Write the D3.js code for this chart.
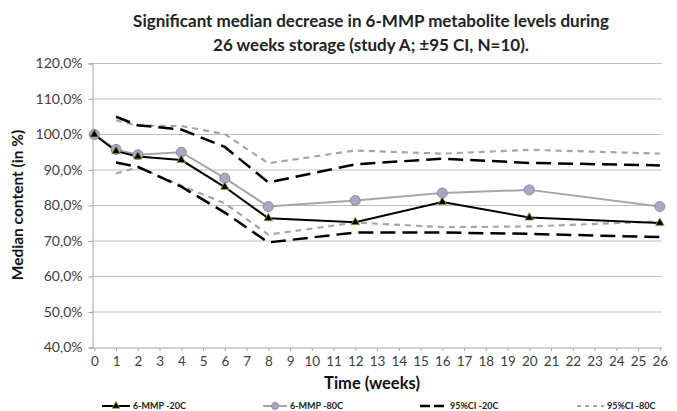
<!DOCTYPE html>
<html>
<head>
<meta charset="utf-8">
<script src="https://cdn.jsdelivr.net/npm/d3@7"></script>
<style>
  body { margin: 0; background: #fff; }
  svg { display: block; font-family: Lato, "Open Sans", sans-serif; }
</style>
</head>
<body>
<div id="chart"></div>
<script>
// weeks of storage
const weeks = [0, 1, 2, 4, 6, 8, 12, 16, 20, 26];
const ciWeeks = [1, 2, 4, 6, 8, 12, 16, 20, 26];

// median content (%)
const mmp20 = [100, 95.3, 93.8, 92.8, 85.2, 76.4, 75.3, 81.0, 76.6, 75.1];
const mmp80 = [100, 95.8, 94.3, 95.0, 87.7, 79.7, 81.4, 83.5, 84.4, 79.7];

// 95% CI bounds
const ci20Upper = [105.0, 102.6, 101.4, 96.5, 86.5, 91.6, 93.2, 92.0, 91.3];
const ci20Lower = [92.1, 90.9, 85.3, 78.0, 69.6, 72.4, 72.4, 72.0, 71.1];
const ci80Upper = [104.0, 102.5, 102.4, 100.1, 91.9, 95.5, 94.6, 95.7, 94.6];
const ci80Lower = [89.0, 90.8, 85.6, 80.6, 71.8, 75.2, 73.9, 74.1, 75.5];

const yTicks = [40, 50, 60, 70, 80, 90, 100, 110, 120];
const xTicks = d3.range(0, 27);

const titleLines = [
  "Significant median decrease in 6-MMP metabolite levels during",
  "26 weeks storage (study A; \u00b195 CI, N=10)."
];

const width = 677, height = 411;
const svg = d3.select("#chart").append("svg")
  .attr("width", width)
  .attr("height", height);

const x = d3.scaleLinear().domain([0, 26]).range([94.3, 659.8]);
const y = d3.scaleLinear().domain([40, 120]).range([347.5, 63.5]);

const fmt = v => d3.format(".1f")(v).replace(".", ",") + "%";

// gridlines
svg.append("g")
  .selectAll("line")
  .data(yTicks.filter(d => d > 40))
  .enter().append("line")
  .attr("x1", 92).attr("x2", 662)
  .attr("y1", d => y(d)).attr("y2", d => y(d))
  .attr("stroke", "#bfbfbf")
  .attr("stroke-width", 1);

// y axis
const yAxis = svg.append("g")
  .attr("transform", "translate(92.5,0)")
  .call(d3.axisLeft(y).tickValues(yTicks).tickFormat(fmt).tickSize(4).tickPadding(6));
yAxis.select(".domain").attr("stroke", "#a6a6a6");
yAxis.selectAll(".tick line").attr("stroke", "#a6a6a6");
yAxis.selectAll("text")
  .attr("fill", "#404040")
  .style("font-size", "14px")
  .style("font-family", "Lato, sans-serif");

// x axis
const xAxis = svg.append("g")
  .attr("transform", `translate(0,${y(40) + 0.5})`)
  .call(d3.axisBottom(x).tickValues(xTicks).tickFormat(d3.format("d")).tickSize(3).tickPadding(5));
xAxis.select(".domain").attr("stroke", "#a6a6a6").attr("d", `M92,0H662`);
xAxis.selectAll(".tick line").attr("stroke", "#a6a6a6");
xAxis.selectAll("text")
  .attr("fill", "#404040")
  .style("font-size", "13.5px")
  .style("font-family", "Lato, sans-serif");

// series
const line = d3.line().x(d => x(d[0])).y(d => y(d[1]));
const series = [
  { xs: ciWeeks, vals: ci80Upper, color: "#a6a6a6", w: 2.2, dash: "6,5" },
  { xs: ciWeeks, vals: ci80Lower, color: "#a6a6a6", w: 2.2, dash: "6,5" },
  { xs: ciWeeks, vals: ci20Upper, color: "#000", w: 2.5, dash: "15,7" },
  { xs: ciWeeks, vals: ci20Lower, color: "#000", w: 2.5, dash: "15,7" },
  { xs: weeks, vals: mmp80, color: "#a6a6a6", w: 2, dash: null },
  { xs: weeks, vals: mmp20, color: "#000", w: 2, dash: null }
];

svg.append("g")
  .selectAll("path")
  .data(series)
  .enter().append("path")
  .attr("d", s => line(s.xs.map((w, i) => [w, s.vals[i]])))
  .attr("fill", "none")
  .attr("stroke", s => s.color)
  .attr("stroke-width", s => s.w)
  .attr("stroke-dasharray", s => s.dash);

// markers
const tri = d3.symbol().type(d3.symbolTriangle).size(32);
svg.append("g")
  .selectAll("circle")
  .data(weeks.map((w, i) => [w, mmp80[i]]))
  .enter().append("circle")
  .attr("cx", d => x(d[0])).attr("cy", d => y(d[1]))
  .attr("r", 5)
  .attr("fill", "#a9a7c2")
  .attr("stroke", "#8b88ad")
  .attr("stroke-width", 1);

svg.append("g")
  .selectAll("path")
  .data(weeks.map((w, i) => [w, mmp20[i]]))
  .enter().append("path")
  .attr("d", tri)
  .attr("transform", d => `translate(${x(d[0])},${y(d[1])})`)
  .attr("fill", "#000")
  .attr("stroke", "#8fa83a")
  .attr("stroke-width", 0.8);

// title
svg.append("g")
  .selectAll("text")
  .data(titleLines)
  .enter().append("text")
  .attr("x", 371)
  .attr("y", (d, i) => 27 + i * 23.5)
  .attr("text-anchor", "middle")
  .attr("fill", "#222")
  .style("font-size", "17px")
  .style("font-weight", "700")
  .text(d => d);

// axis titles
svg.append("text")
  .attr("transform", "translate(23,205) rotate(-90)")
  .attr("text-anchor", "middle")
  .attr("fill", "#111")
  .style("font-size", "15.5px")
  .style("font-weight", "700")
  .text("Median content (in %)");

svg.append("text")
  .attr("x", 372).attr("y", 389)
  .attr("text-anchor", "middle")
  .attr("fill", "#111")
  .style("font-size", "16.5px")
  .style("font-weight", "700")
  .text("Time (weeks)");

// legend
const legendItems = [
  { label: "6-MMP -20C", x0: 102, x1: 130, color: "#000", w: 2, dash: null, marker: "tri" },
  { label: "6-MMP -80C", x0: 263, x1: 287, color: "#a6a6a6", w: 2, dash: null, marker: "circle" },
  { label: "95%CI -20C", x0: 420, x1: 447, color: "#000", w: 2.5, dash: "10,4", marker: null },
  { label: "95%CI -80C", x0: 577, x1: 604, color: "#a6a6a6", w: 1.8, dash: "4,4", marker: null }
];
const ly = 406;
const legend = svg.append("g")
  .selectAll("g")
  .data(legendItems)
  .enter().append("g");
legend.append("line")
  .attr("x1", d => d.x0).attr("x2", d => d.x1)
  .attr("y1", ly).attr("y2", ly)
  .attr("stroke", d => d.color)
  .attr("stroke-width", d => d.w)
  .attr("stroke-dasharray", d => d.dash);
legend.filter(d => d.marker === "tri").append("path")
  .attr("d", d3.symbol().type(d3.symbolTriangle).size(26))
  .attr("transform", d => `translate(${(d.x0 + d.x1) / 2},${ly})`)
  .attr("fill", "#000")
  .attr("stroke", "#8fa83a")
  .attr("stroke-width", 0.8);
legend.filter(d => d.marker === "circle").append("circle")
  .attr("cx", d => (d.x0 + d.x1) / 2).attr("cy", ly)
  .attr("r", 3.5)
  .attr("fill", "#a9a7c2")
  .attr("stroke", "#8b88ad");
legend.append("text")
  .attr("x", d => d.x1 + 3)
  .attr("y", ly + 3)
  .attr("fill", "#222")
  .style("font-size", "9px")
  .style("font-weight", "700")
  .text(d => d.label);
</script>
</body>
</html>
